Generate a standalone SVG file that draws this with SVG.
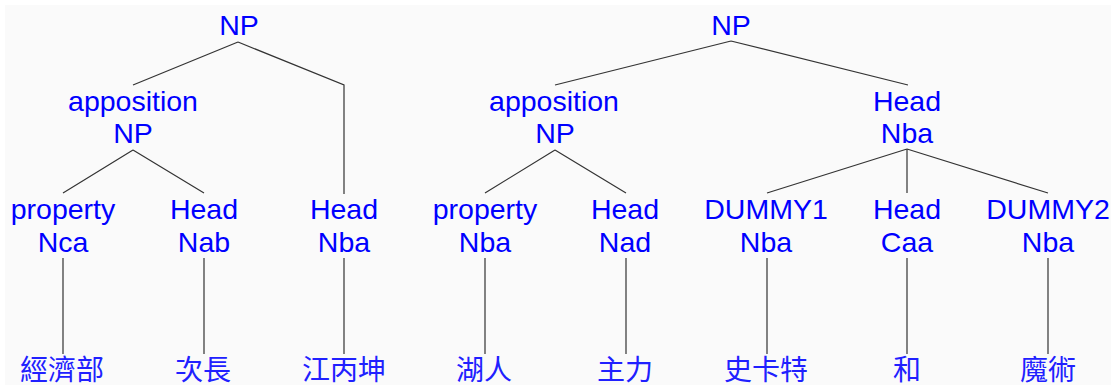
<svg xmlns="http://www.w3.org/2000/svg" width="1111" height="385" viewBox="0 0 1111 385">
<style>
.t{font-family:"Liberation Sans",Arial,sans-serif;font-size:28.5px;fill:#0000ff;text-anchor:middle}
.c{font-family:"Liberation Serif","Noto Sans CJK TC",serif;font-size:28px;fill:#2020ff;text-anchor:middle}
.e{stroke:#333;stroke-width:1.2;fill:none}
</style>
<rect width="1111" height="385" fill="#ffffff"/>
<rect x="5" y="5" width="1106" height="380" fill="#fafafa"/>
<g id="connectors" class="e">
<path d="M238 42L133 85M238 42L344 85V194"/>
<path d="M133 150L63 193M133 150L204 193"/>
<path d="M63 258V354M204 258V354M344 258V354"/>
<path d="M731 41L555 85M731 41L908 85"/>
<path d="M555 150L485 193M555 150L626 193"/>
<path d="M907 149L767 193M907 149V193M907 149L1048 193"/>
<path d="M485 258V354M626 258V354M767 258V354M907 258V354M1048 258V354"/>
</g>
<g id="n1"><text class="t" x="239" y="35">NP</text></g>
<g id="n2"><text class="t" x="133" y="111">apposition</text><text class="t" x="133" y="143">NP</text></g>
<g id="n3"><text class="t" x="63" y="219">property</text><text class="t" x="63" y="252">Nca</text></g>
<g id="n4"><text class="t" x="204" y="219">Head</text><text class="t" x="204" y="252">Nab</text></g>
<g id="n5"><text class="t" x="344" y="219">Head</text><text class="t" x="344" y="252">Nba</text></g>
<g id="w1"><text class="c" x="62" y="380">經濟部</text></g>
<g id="w2"><text class="c" x="203" y="380">次長</text></g>
<g id="w3"><text class="c" x="344" y="380">江丙坤</text></g>
<g id="m1"><text class="t" x="731" y="35">NP</text></g>
<g id="m2"><text class="t" x="554" y="111">apposition</text><text class="t" x="555" y="143">NP</text></g>
<g id="m3"><text class="t" x="907" y="111">Head</text><text class="t" x="907" y="143">Nba</text></g>
<g id="m4"><text class="t" x="485" y="219">property</text><text class="t" x="485" y="252">Nba</text></g>
<g id="m5"><text class="t" x="625" y="219">Head</text><text class="t" x="625" y="252">Nad</text></g>
<g id="m6"><text class="t" x="766" y="219">DUMMY1</text><text class="t" x="766" y="252">Nba</text></g>
<g id="m7"><text class="t" x="907" y="219">Head</text><text class="t" x="907" y="252">Caa</text></g>
<g id="m8"><text class="t" x="1048" y="219">DUMMY2</text><text class="t" x="1048" y="252">Nba</text></g>
<g id="v1"><text class="c" x="484" y="380">湖人</text></g>
<g id="v2"><text class="c" x="625" y="380">主力</text></g>
<g id="v3"><text class="c" x="766" y="380">史卡特</text></g>
<g id="v4"><text class="c" x="907" y="380">和</text></g>
<g id="v5"><text class="c" x="1048" y="380">魔術</text></g>
</svg>
